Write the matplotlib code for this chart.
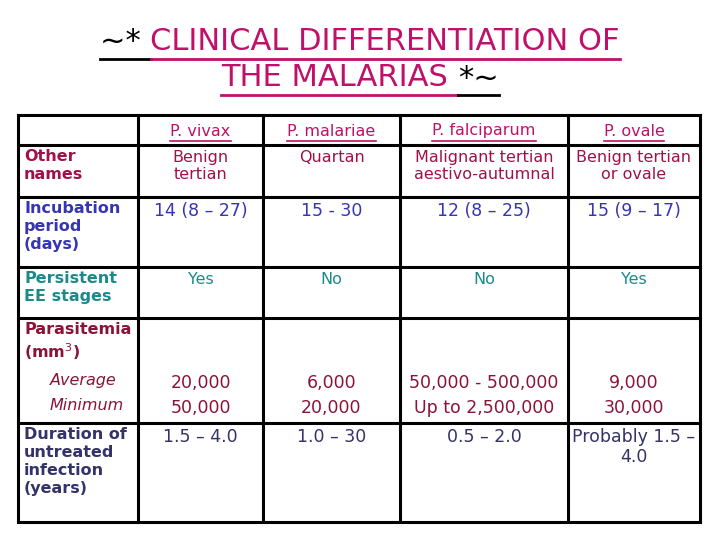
import matplotlib
matplotlib.use("Agg")
import matplotlib.pyplot as plt

species = ["P. vivax", "P. malariae", "P. falciparum", "P. ovale"]
row_labels = ["Other\nnames", "Incubation\nperiod\n(days)", "Persistent\nEE stages",
              "Parasitemia\n(mm$^3$)", "Duration of\nuntreated\ninfection\n(years)"]
other_names = ["Benign\ntertian", "Quartan", "Malignant tertian\naestivo-autumnal", "Benign tertian\nor ovale"]
incubation = ["14 (8 – 27)", "15 - 30", "12 (8 – 25)", "15 (9 – 17)"]
persistent = ["Yes", "No", "No", "Yes"]
par_average = ["20,000", "6,000", "50,000 - 500,000", "9,000"]
par_minimum = ["50,000", "20,000", "Up to 2,500,000", "30,000"]
duration = ["1.5 – 4.0", "1.0 – 30", "0.5 – 2.0", "Probably 1.5 –\n4.0"]

MAG = "#c0106a"
COL_ROWS = ["#a0104a", "#3535b5", "#1a8a8a", "#8a1438", "#33336a"]

fig = plt.figure(figsize=(7.2, 5.4), dpi=100)
ax = fig.add_axes([0, 0, 1, 1])
ax.set_xlim(0, 720); ax.set_ylim(540, 0); ax.axis("off")

xs = [18, 138, 263, 400, 568, 700]
ys = [115, 145, 197, 267, 318, 423, 522]
for x in xs:
    ax.plot([x, x], [ys[0], ys[-1]], color="black", lw=2.2, solid_capstyle="projecting")
for y in ys:
    ax.plot([xs[0], xs[-1]], [y, y], color="black", lw=2.2, solid_capstyle="projecting")

fig.canvas.draw()
r = fig.canvas.get_renderer()
inv = ax.transData.inverted()

def underline(t, color, lw=2, off=4):
    bb = t.get_window_extent(r).transformed(inv)
    y = max(bb.y0, bb.y1) + off
    ax.plot([bb.x0, bb.x1], [y, y], color=color, lw=lw)

# Title
tfs = 22
parts1 = [("~* ", "black"), ("CLINICAL DIFFERENTIATION OF", MAG)]
parts2 = [("THE MALARIAS ", MAG), ("*~", "black")]
for parts, yy in [(parts1, 42), (parts2, 78)]:
    texts = []
    x = 0
    for p, c in parts:
        tt = ax.text(x, yy, p, fontsize=tfs, ha="left", va="center", color=c)
        pb = tt.get_window_extent(r).transformed(inv)
        texts.append((tt, pb.x1 - pb.x0, c))
        x += pb.x1 - pb.x0
    total = x
    x = 360 - total / 2
    ybase = yy + 17
    for tt, w, c in texts:
        tt.set_x(x)
        ax.plot([x, x + w], [ybase, ybase], color=c, lw=2)
        x += w

fs = 11.5
for i, s in enumerate(species):
    cx = (xs[i + 1] + xs[i + 2]) / 2
    t = ax.text(cx, 131, s, fontsize=fs, ha="center", va="center", color=MAG)
    underline(t, MAG, lw=1.2, off=2)

for j, lab in enumerate(row_labels):
    ax.text(24, ys[j + 1] + 4, lab, fontsize=fs, ha="left", va="top", color=COL_ROWS[j],
            fontweight="bold", linespacing=1.25)
ax.text(50, 380, "Average", fontsize=fs, style="italic", color=COL_ROWS[3], ha="left", va="center")
ax.text(50, 405, "Minimum", fontsize=fs, style="italic", color=COL_ROWS[3], ha="left", va="center")

rows = [other_names, incubation, persistent, None, duration]
for j, vals in enumerate(rows):
    for i in range(4):
        cx = (xs[i + 1] + xs[i + 2]) / 2
        if vals is None:
            ax.text(cx, 383, par_average[i], fontsize=fs + 1, ha="center", va="center", color=COL_ROWS[3])
            ax.text(cx, 408, par_minimum[i], fontsize=fs + 1, ha="center", va="center", color=COL_ROWS[3])
        else:
            ax.text(cx, ys[j + 1] + 5, vals[i], fontsize=fs + (1 if j in (1, 4) else 0),
                    ha="center", va="top", color=COL_ROWS[j], linespacing=1.15)

fig.savefig("out.png", dpi=100)
